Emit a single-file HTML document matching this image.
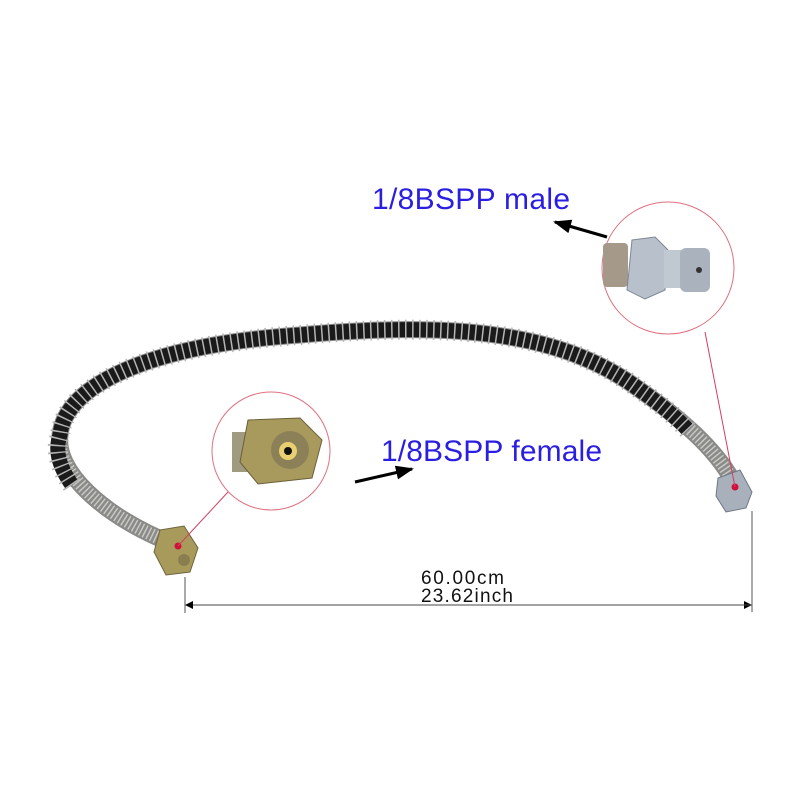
<!DOCTYPE html>
<html><head><style>
html,body{margin:0;padding:0;background:#fff;}
svg{display:block}
text{font-family:"Liberation Sans",Arial,sans-serif}
</style></head><body>
<svg width="800" height="800" viewBox="0 0 800 800" xmlns="http://www.w3.org/2000/svg">
<defs>
<marker id="ah" markerWidth="8" markerHeight="8" refX="7" refY="4" orient="auto" markerUnits="userSpaceOnUse">
<path d="M0,0 L8,4 L0,8 Z" fill="#000"/></marker>
<marker id="bh" markerWidth="18" markerHeight="14" refX="16" refY="7" orient="auto" markerUnits="userSpaceOnUse">
<path d="M0,0 L18,7 L0,14 Z" fill="#000"/></marker>
</defs>
<path d="M175 545 C100 515,55 470,60 435 C65 385,150 345,300 335 C450 322,560 330,640 390 C690 425,720 455,735 485" fill="none" stroke="#8a8a88" stroke-width="17" stroke-linecap="round"/>
<path d="M175 545 C100 515,55 470,60 435 C65 385,150 345,300 335 C450 322,560 330,640 390 C690 425,720 455,735 485" fill="none" stroke="#c8c8c4" stroke-width="13" stroke-dasharray="1.5 2.5"/>
<path d="M72 485 C58 465,55 450,60 435 C65 385,150 345,300 335 C450 322,560 330,640 390 C660 404,675 416,688 430" fill="none" stroke="#1a1a1a" stroke-width="15"/>
<path d="M72 485 C58 465,55 450,60 435 C65 385,150 345,300 335 C450 322,560 330,640 390 C660 404,675 416,688 430" fill="none" stroke="#b5b5b5" stroke-width="20" stroke-dasharray="1.5 5.5"/>
<polygon points="160,530 184,526 198,548 190,572 166,575 154,552" fill="#a89a5a" stroke="#6d6440" stroke-width="1"/>
<circle cx="184" cy="560" r="6" fill="#8a7e50"/>
<circle cx="178" cy="546" r="3.5" fill="#d0103a"/>
<polygon points="718,478 740,470 752,492 746,508 726,512 716,496" fill="#a8b0bc" stroke="#6e7684" stroke-width="1"/>
<circle cx="735" cy="487" r="3.5" fill="#d0103a"/>
<line x1="178" y1="546" x2="228" y2="492" stroke="#d04060" stroke-width="1"/>
<line x1="735" y1="487" x2="705" y2="332" stroke="#d04060" stroke-width="1"/>
<circle cx="271" cy="451" r="59" fill="#fff" stroke="#e07080" stroke-width="1"/>
<rect x="232" y="432" width="22" height="40" fill="#a09a80"/>
<polygon points="248,420 300,418 322,440 312,478 258,484 240,462" fill="#a89a5c" stroke="#6a6038" stroke-width="1"/>
<circle cx="290" cy="450" r="19" fill="#8c8058"/>
<circle cx="288" cy="451" r="9" fill="#e8d070"/>
<circle cx="288" cy="451" r="4" fill="#111"/>
<circle cx="668" cy="268" r="66" fill="#fff" stroke="#e07080" stroke-width="1"/>
<rect x="603" y="243" width="25" height="44" rx="4" fill="#a59a8a"/>
<polygon points="632,240 655,237 668,250 665,290 645,299 627,290" fill="#b8c0cc" stroke="#7e8694" stroke-width="1"/>
<rect x="664" y="250" width="20" height="38" fill="#c0c8d2"/>
<rect x="680" y="248" width="30" height="44" rx="6" fill="#aab2be"/>
<circle cx="699" cy="270" r="3" fill="#333"/>
<line x1="607" y1="237" x2="555" y2="222" stroke="#000" stroke-width="3" marker-end="url(#bh)"/>
<line x1="355" y1="482" x2="412" y2="469" stroke="#000" stroke-width="3" marker-end="url(#bh)"/>
<text x="372" y="209" font-size="30" textLength="198" fill="#2a1ee0">1/8BSPP male</text>
<text x="381" y="461" font-size="30" textLength="221" fill="#2a1ee0">1/8BSPP female</text>
<line x1="185" y1="577" x2="185" y2="613" stroke="#555" stroke-width="1"/>
<line x1="752" y1="511" x2="752" y2="612" stroke="#555" stroke-width="1"/>
<line x1="186" y1="605" x2="751" y2="605" stroke="#444" stroke-width="1" marker-end="url(#ah)"/>
<line x1="751" y1="605" x2="186" y2="605" stroke="#444" stroke-width="1" marker-end="url(#ah)"/>
<text x="421" y="584" font-size="19" textLength="83" fill="#111">60.00cm</text>
<text x="421" y="602" font-size="19" textLength="92" fill="#111">23.62inch</text>
</svg>
</body></html>
